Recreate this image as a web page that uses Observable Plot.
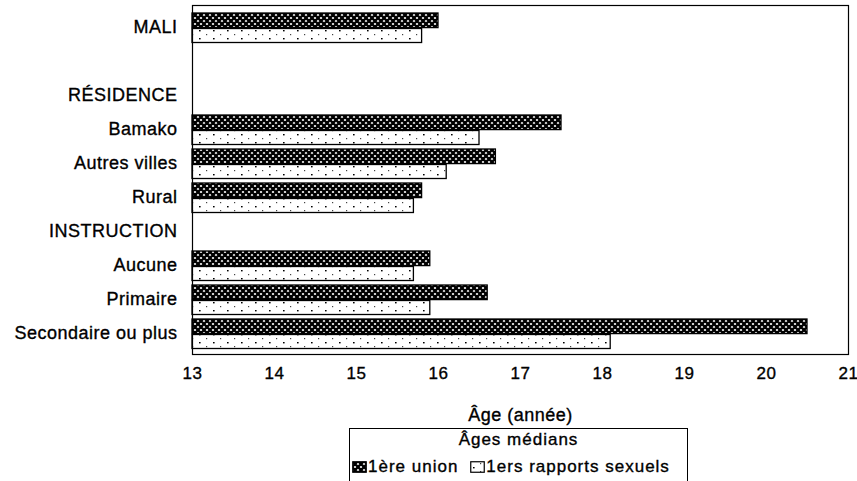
<!DOCTYPE html>
<html>
<head>
<meta charset="utf-8">
<script src="https://cdn.jsdelivr.net/npm/d3@7"></script>
<script src="https://cdn.jsdelivr.net/npm/@observablehq/plot@0.6"></script>
<style>
  html, body { margin: 0; padding: 0; background: #fff; }
  body { width: 857px; height: 481px; overflow: hidden; position: relative; font-family: "Liberation Sans", Arial, sans-serif; color: #000; }
  #chart { position: absolute; left: 0; top: 0; }
  #chart text { stroke: #000; stroke-width: 0.35px; }
  #legend { position: absolute; left: 349px; top: 428px; width: 337px; height: 60px; border: 1.5px solid #000; box-sizing: content-box; font-size: 17px; letter-spacing: 1px; -webkit-text-stroke: 0.35px #000; }
  #legend .title { text-align: center; line-height: 20px; padding-top: 1px; }
  #legend .items { display: flex; align-items: center; margin-top: 7px; padding-left: 2px; line-height: 20px; white-space: nowrap; }
  #legend .item { display: flex; align-items: center; margin-right: 12px; }
  #legend svg { margin-right: 1px; }
</style>
</head>
<body>
<svg width="0" height="0" style="position:absolute">
  <defs>
    <pattern id="hatch" width="6" height="6" patternUnits="userSpaceOnUse">
      <rect width="6" height="6" fill="#fff"/>
      <path d="M0,0L6,6M6,0L0,6M-3,3L3,9M3,-3L9,3M-3,3L3,-3M3,9L9,3" stroke="#000" stroke-width="2.3"/>
    </pattern>
    <pattern id="dots" width="14" height="8" patternUnits="userSpaceOnUse">
      <rect width="14" height="8" fill="#fff"/>
      <rect x="3" y="6" width="1.6" height="1.4" fill="#000"/>
      <rect x="10" y="2" width="1.2" height="1.2" fill="#444"/>
    </pattern>
  </defs>
</svg>
<div id="chart"></div>
<div id="legend"></div>
<script>
// Row labels (band order, including section headers and the blank row)
const rows = ["MALI", "", "RÉSIDENCE", "Bamako", "Autres villes", "Rural", "INSTRUCTION", "Aucune", "Primaire", "Secondaire ou plus"];
// Categories with bars
const categories = ["MALI", "Bamako", "Autres villes", "Rural", "Aucune", "Primaire", "Secondaire ou plus"];
// Median age at first union
const unionAge = [16.0, 17.5, 16.7, 15.8, 15.9, 16.6, 20.5];
// Median age at first sexual intercourse
const sexAge = [15.8, 16.5, 16.1, 15.7, 15.7, 15.9, 18.1];
// X tick labels
const xTicks = [13, 14, 15, 16, 17, 18, 19, 20, 21];
// Legend
const legendTitle = "Âges médians";
const seriesNames = ["1ère union", "1ers rapports sexuels"];
const seriesFills = ["url(#hatch)", "url(#dots)"];

const xMin = xTicks[0];
const data = categories.map((c, i) => ({cat: c, union: unionAge[i], sex: sexAge[i]}));

const chart = Plot.plot({
  width: 857,
  height: 426,
  marginLeft: 192,
  marginRight: 9,
  marginTop: 5,
  marginBottom: 72,
  style: {fontFamily: "Liberation Sans, Arial, sans-serif", fontSize: "17px", color: "#000", background: "#fff", letterSpacing: "0.5px"},
  x: {domain: [xTicks[0], xTicks[xTicks.length - 1]], ticks: xTicks, tickSize: 0, tickPadding: 12, label: "Âge (année)", labelAnchor: "center", labelArrow: "none", labelOffset: 66},
  y: {domain: rows, paddingInner: 0, paddingOuter: 0, tickSize: 0, tickPadding: 15, label: null},
  marks: [
    Plot.barX(data, {y: "cat", x1: () => xMin, x2: "union", fill: seriesFills[0], stroke: "#000", strokeWidth: 1.3, insetTop: 3, insetBottom: 16.4}),
    Plot.barX(data, {y: "cat", x1: () => xMin, x2: "sex", fill: seriesFills[1], stroke: "#000", strokeWidth: 1.3, insetTop: 18.5, insetBottom: 1.5}),
    Plot.frame({stroke: "#000", strokeWidth: 1.2})
  ]
});
document.getElementById("chart").appendChild(chart);

// y tick labels and axis title slightly larger
d3.select(chart).selectAll("g[aria-label='y-axis tick label'] text").style("font-size", "18px");
d3.select(chart).selectAll("g[aria-label='x-axis label'] text").style("font-size", "18px");

// Legend
const legend = d3.select("#legend");
legend.append("div").attr("class", "title").text(legendTitle);
const items = legend.append("div").attr("class", "items");
seriesNames.forEach((name, i) => {
  const it = items.append("div").attr("class", "item");
  const sw = it.append("svg").attr("width", 15).attr("height", 12);
  sw.append("rect").attr("x", 0.75).attr("y", 0.75).attr("width", 13.5).attr("height", 10.5)
    .attr("fill", seriesFills[i]).attr("stroke", "#000").attr("stroke-width", 1.2);
  it.append("span").text(name);
});
</script>
</body>
</html>
